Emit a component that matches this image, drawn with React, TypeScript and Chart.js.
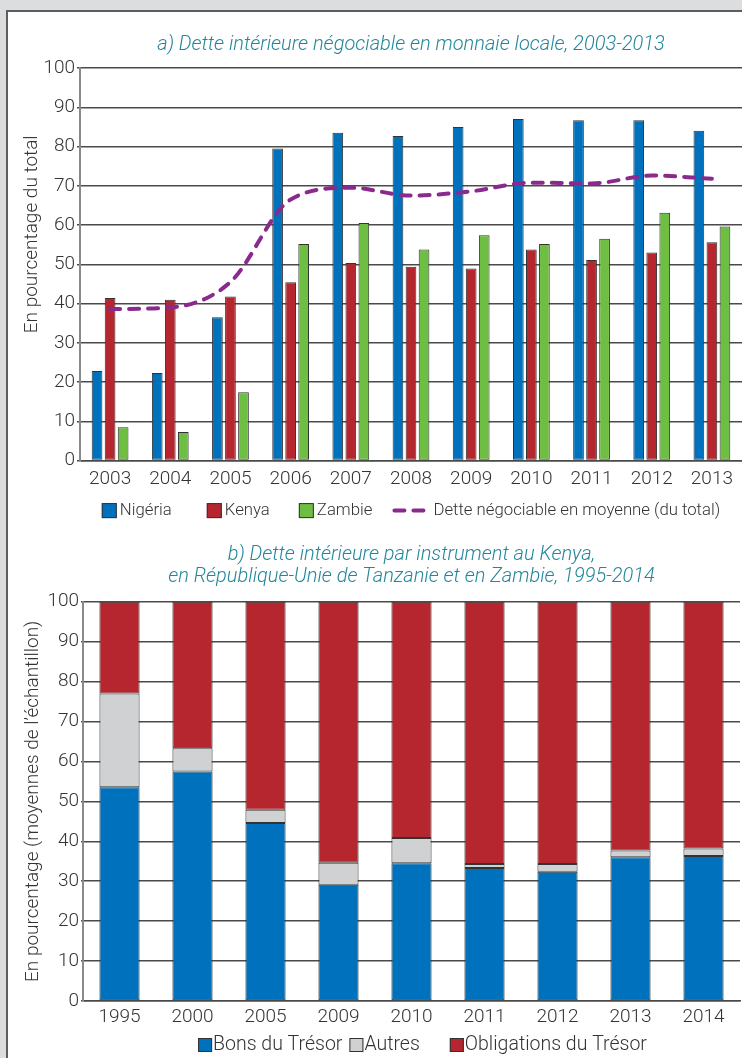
import React, { useEffect, useRef } from 'react';
import { Chart, registerables } from 'chart.js';

Chart.register(...registerables);

const FONT = 'Roboto, "Liberation Sans", Arial, sans-serif';
const WEIGHT = 300;
const TEXT = '#333333';
const TEAL = '#22879b';
const BLUE = '#0071bc';
const RED = '#b5262e';
const GREEN = '#6fbe44';
const GREY = '#d0d1d3';
const PURPLE = '#8b2a8e';
const GRID = '#4a4a4a';
const EDGE = '#333333';

// ---- Chart a data ----
const titleA = 'a) Dette intérieure négociable en monnaie locale, 2003-2013';
const yearsA = ['2003', '2004', '2005', '2006', '2007', '2008', '2009', '2010', '2011', '2012', '2013'];
const nigeria = [22.8, 22.3, 36.5, 79.5, 83.5, 82.7, 85, 87, 86.7, 86.7, 84];
const kenya = [41.4, 41, 41.8, 45.4, 50.3, 49.4, 48.9, 53.8, 51.1, 53, 55.6];
const zambie = [8.5, 7.3, 17.4, 55.2, 60.5, 53.8, 57.4, 55.2, 56.5, 63.1, 59.6];
const moyenne = [38.6, 39, 45.5, 66.5, 69.5, 67.5, 68.6, 70.8, 70.6, 72.6, 71.8];
const labelsA = ['Nigéria', 'Kenya', 'Zambie', 'Dette négociable en moyenne (du total)'];
const yTitleA = 'En pourcentage du total';

// ---- Chart b data ----
const titleB = ['b) Dette intérieure par instrument au Kenya,', 'en République-Unie de Tanzanie et en Zambie, 1995-2014'];
const yearsB = ['1995', '2000', '2005', '2009', '2010', '2011', '2012', '2013', '2014'];
const bons = [53.5, 57.5, 44.6, 29.1, 34.5, 33.3, 32.4, 36, 36.3];
const autres = [23.5, 5.8, 3.3, 5.5, 6.3, 1.0, 1.9, 1.7, 1.9];
const obligations = [23, 36.7, 52.1, 65.4, 59.2, 65.7, 65.7, 62.3, 61.8];
const labelsB = ['Bons du Trésor', 'Autres', 'Obligations du Trésor'];
const yTitleB = 'En pourcentage (moyennes de l’échantillon)';

const legendPlugin = {
  id: 'customLegend',
  afterDraw(chart: any, _args: any, opts: any) {
    const { ctx, chartArea } = chart;
    const datasets = chart.data.datasets;
    ctx.save();
    ctx.font = `${WEIGHT} ${opts.fontSize}px ${FONT}`;
    const gaps: number[] = opts.gaps;
    const widths = datasets.map((ds: any) =>
      (ds.type === 'line' ? opts.lineLen + opts.lineGap : opts.box + opts.textGap) + ctx.measureText(ds.label).width
    );
    let total = widths.reduce((a: number, b: number) => a + b, 0);
    for (let i = 0; i < datasets.length - 1; i++) total += gaps[i];
    let x = (chartArea.left + chartArea.right) / 2 + opts.dx - total / 2;
    const y = chartArea.bottom + opts.dy;
    datasets.forEach((ds: any, i: number) => {
      if (ds.type === 'line') {
        ctx.save();
        ctx.strokeStyle = ds.borderColor;
        ctx.lineWidth = ds.borderWidth;
        ctx.setLineDash(ds.borderDash || []);
        ctx.lineCap = ds.borderCapStyle || 'butt';
        ctx.beginPath();
        ctx.moveTo(x + ds.borderWidth / 2, y);
        ctx.lineTo(x + opts.lineLen - ds.borderWidth / 2, y);
        ctx.stroke();
        ctx.restore();
        x += opts.lineLen + opts.lineGap;
      } else {
        ctx.fillStyle = ds.backgroundColor;
        ctx.fillRect(x, y - opts.box / 2, opts.box, opts.box);
        ctx.strokeStyle = EDGE;
        ctx.lineWidth = 1;
        ctx.strokeRect(x + 0.5, y - opts.box / 2 + 0.5, opts.box - 1, opts.box - 1);
        x += opts.box + opts.textGap;
      }
      ctx.fillStyle = TEXT;
      ctx.textBaseline = 'middle';
      ctx.textAlign = 'left';
      ctx.fillText(ds.label, x, y);
      x += ctx.measureText(ds.label).width + (gaps[i] || 0);
    });
    ctx.restore();
  },
};

const yTitlePlugin = {
  id: 'yTitle',
  afterDraw(chart: any, _args: any, opts: any) {
    const { ctx, chartArea } = chart;
    ctx.save();
    ctx.translate(opts.x, (chartArea.top + chartArea.bottom) / 2 + opts.dy);
    ctx.rotate(-Math.PI / 2);
    ctx.font = `${WEIGHT} ${opts.fontSize}px ${FONT}`;
    ctx.fillStyle = TEXT;
    ctx.textAlign = 'center';
    ctx.textBaseline = 'middle';
    ctx.fillText(opts.text, 0, 0);
    ctx.restore();
  },
};

const tickFont = { family: FONT, size: 19, weight: WEIGHT as any };
const titleFont = { family: FONT, size: 20, style: 'italic' as const, weight: WEIGHT as any, lineHeight: 1.125 };

export default function App() {
  const refA = useRef<HTMLCanvasElement>(null);
  const refB = useRef<HTMLCanvasElement>(null);

  useEffect(() => {
    const barStyle = { borderColor: EDGE, borderWidth: 1, borderSkipped: false as const };
    const chartA = new Chart(refA.current!, {
      type: 'bar',
      data: {
        labels: yearsA,
        datasets: [
          { type: 'bar', label: labelsA[0], data: nigeria, backgroundColor: BLUE, ...barStyle, order: 1 },
          { type: 'bar', label: labelsA[1], data: kenya, backgroundColor: RED, ...barStyle, order: 1 },
          { type: 'bar', label: labelsA[2], data: zambie, backgroundColor: GREEN, ...barStyle, order: 1 },
          {
            type: 'line', label: labelsA[3], data: moyenne, borderColor: PURPLE, backgroundColor: PURPLE,
            borderWidth: 4, borderDash: [10, 9], borderCapStyle: 'round', pointRadius: 0,
            cubicInterpolationMode: 'monotone', fill: false, order: 0,
          } as any,
        ],
      },
      options: {
        responsive: false,
        animation: false,
        datasets: { bar: { categoryPercentage: 0.65, barPercentage: 0.82 } },
        layout: { padding: { left: 0, right: 0, top: 0, bottom: 34.6 } },
        plugins: {
          legend: { display: false },
          tooltip: { enabled: false },
          title: {
            display: true, text: titleA, color: TEAL, fullSize: false,
            font: titleFont,
            padding: { top: 21.25, bottom: 12.25 },
          },
          customLegend: { fontSize: 16.75, box: 15, textGap: 3, lineLen: 33, lineGap: 8, gaps: [35, 29, 20], dx: 0, dy: 50 },
          yTitle: { text: yTitleA, fontSize: 19, x: 24.5, dy: -30 },
        } as any,
        scales: {
          x: {
            grid: { display: false, drawTicks: false },
            border: { display: true, color: GRID, width: 1.5 },
            ticks: { color: TEXT, font: tickFont, padding: 7, maxRotation: 0, autoSkip: false },
          },
          y: {
            min: 0, max: 100,
            ticks: { stepSize: 10, color: TEXT, font: tickFont, padding: 2 },
            grid: { color: GRID, lineWidth: 1.5, tickLength: 3 },
            border: { color: '#8a8a8a', width: 2 },
            title: { display: false },
            afterFit: (s: any) => { s.width = 72; },
          },
        },
      },
      plugins: [legendPlugin, yTitlePlugin],
    });

    const chartB = new Chart(refB.current!, {
      type: 'bar',
      data: {
        labels: yearsB,
        datasets: [
          { label: labelsB[0], data: bons, backgroundColor: BLUE, ...barStyle },
          { label: labelsB[1], data: autres, backgroundColor: GREY, ...barStyle },
          { label: labelsB[2], data: obligations, backgroundColor: RED, ...barStyle },
        ],
      },
      options: {
        responsive: false,
        animation: false,
        datasets: { bar: { categoryPercentage: 1, barPercentage: 0.55 } },
        layout: { padding: { left: 0, right: 2, top: 0, bottom: 25 } },
        plugins: {
          legend: { display: false },
          tooltip: { enabled: false },
          title: {
            display: true, text: titleB, color: TEAL, fullSize: false,
            font: titleFont,
            padding: { top: 23.25, bottom: 13.45 },
          },
          customLegend: { fontSize: 19.5, box: 14, textGap: 1, lineLen: 0, lineGap: 0, gaps: [7, 30], dx: 11, dy: 44 },
          yTitle: { text: yTitleB, fontSize: 19, x: 25, dy: 0 },
        } as any,
        scales: {
          x: {
            stacked: true,
            grid: { display: false, drawTicks: false },
            border: { display: true, color: GRID, width: 1.5 },
            ticks: { color: TEXT, font: tickFont, padding: 4.6, maxRotation: 0, autoSkip: false },
          },
          y: {
            stacked: true, min: 0, max: 100,
            ticks: { stepSize: 10, color: TEXT, font: tickFont, padding: 2 },
            grid: { color: GRID, lineWidth: 1.5, tickLength: 2 },
            border: { color: '#8a8a8a', width: 2 },
            title: { display: false },
            afterFit: (s: any) => { s.width = 75; },
          },
        },
      },
      plugins: [legendPlugin, yTitlePlugin],
    });

    return () => {
      chartA.destroy();
      chartB.destroy();
    };
  }, []);

  return (
    <div style={{ position: 'fixed', left: 0, top: 0, width: 742, height: 1058, background: '#dcdddf', overflow: 'hidden' }}>
      <div style={{ position: 'absolute', left: 6, top: 10, width: 780, height: 1100, background: '#ffffff', borderLeft: '2px solid #5e5e5e', borderTop: '2px solid #5e5e5e' }} />
      <canvas ref={refA} width={734} height={520} style={{ position: 'absolute', left: 8, top: 12, display: 'block' }} />
      <canvas ref={refB} width={734} height={538} style={{ position: 'absolute', left: 8, top: 520, display: 'block' }} />
    </div>
  );
}
